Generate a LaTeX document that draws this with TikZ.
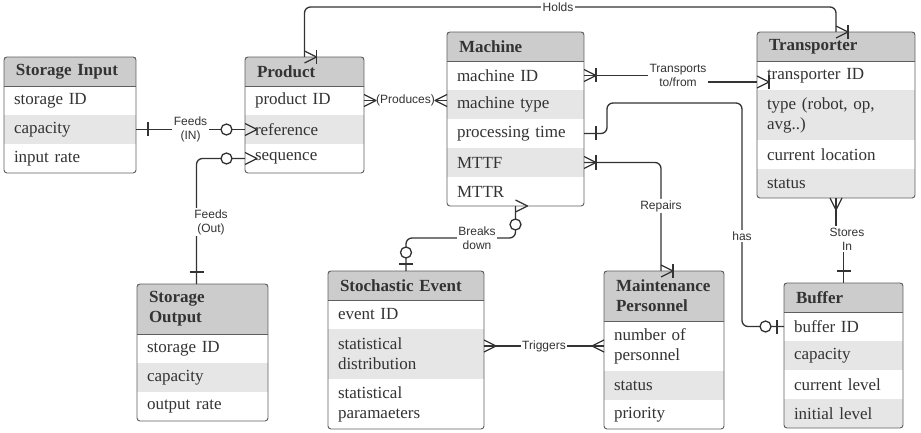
\documentclass[tikz,border=0pt]{standalone}
\usepackage{fontspec}
\setmainfont{Liberation Serif}
\newfontfamily\lblfont{Liberation Sans}
\usetikzlibrary{positioning}
\definecolor{hdrgray}{HTML}{CCCCCC}
\definecolor{rowgray}{HTML}{E6E6E6}
\definecolor{edgegray}{HTML}{5E5E5E}
\definecolor{inkgray}{HTML}{333333}
\definecolor{linegray}{HTML}{333333}

\begin{document}
\begin{tikzpicture}[x=1pt,y=-1pt,
    cell/.style={inner xsep=10pt, inner ysep=0pt, outer sep=0pt, align=left, text=inkgray,
        font=\fontsize{17}{20}\selectfont, minimum height=29pt},
    hdr/.style={cell, fill=hdrgray, inner xsep=12pt, font=\fontsize{17}{20}\selectfont\bfseries, text width=#1},
    rowa/.style={cell, fill=white, text width=#1},
    rowb/.style={cell, fill=rowgray, text width=#1},
    tall/.style={minimum height=50pt},
    tblline/.style={draw=edgegray, line width=0.9pt},
    conn/.style={draw=linegray, line width=1.3pt, line join=round},
    lbl/.style={font=\lblfont\fontsize{12}{14}\selectfont, text=inkgray, fill=white, inner sep=1.5pt, align=center},
    one/.pic={\draw[conn] (12,-7) -- (12,7);},
    many/.pic={\draw[conn] (0,6) -- (12,0) -- (0,-6);},
    onemany/.pic={\pic {many}; \pic {one};},
    zeromany/.pic={\pic {many}; \draw[conn, fill=white] (18.5,0) circle[radius=5.5pt];},
    zeroone/.pic={\draw[conn] (7,-7) -- (7,7); \draw[conn, fill=white] (18.5,0) circle[radius=5.5pt];}]
    \useasboundingbox[fill=white] (0,0) rectangle (921,433);

    % Storage Input
    \node[hdr=108pt, anchor=north west] (si) at (4,57) {Storage Input};
    \node[rowa=112pt, below=0pt of si] (si1) {storage ID};
    \node[rowb=112pt, below=0pt of si1] (si2) {capacity};
    \node[rowa=112pt, below=0pt of si2] (si3) {input rate};

    % Product
    \node[hdr=95pt, anchor=north west] (prod) at (245,57) {Product};
    \node[rowa=99pt, below=0pt of prod] (prod1) {product ID};
    \node[rowb=99pt, below=0pt of prod1] (prod2) {reference};
    \node[rowa=99pt, below=0pt of prod2] (prod3) {sequence};

    % Machine
    \node[hdr=113pt, anchor=north west] (mach) at (447,32) {Machine};
    \node[rowa=117pt, below=0pt of mach] (mach1) {machine ID};
    \node[rowb=117pt, below=0pt of mach1] (mach2) {machine type};
    \node[rowa=117pt, below=0pt of mach2] (mach3) {processing time};
    \node[rowb=117pt, below=0pt of mach3] (mach4) {MTTF};
    \node[rowa=117pt, below=0pt of mach4] (mach5) {MTTR};

    % Transporter
    \node[hdr=134pt, anchor=north west] (trans) at (757,32) {Transporter};
    \node[rowa=138pt, below=0pt of trans] (trans1) {transporter ID};
    \node[rowb=138pt, tall, below=0pt of trans1] (trans2) {type (robot, op,\\avg..)};
    \node[rowa=138pt, below=0pt of trans2] (trans3) {current location};
    \node[rowb=138pt, below=0pt of trans3] (trans4) {status};

    % Storage Output
    \node[hdr=107pt, tall, anchor=north west] (sout) at (137,284) {Storage\\Output};
    \node[rowa=111pt, below=0pt of sout] (sout1) {storage ID};
    \node[rowb=111pt, below=0pt of sout1] (sout2) {capacity};
    \node[rowa=111pt, below=0pt of sout2] (sout3) {output rate};

    % Stochastic Event
    \node[hdr=132pt, anchor=north west] (stoch) at (328,271) {Stochastic Event};
    \node[rowa=136pt, below=0pt of stoch] (stoch1) {event ID};
    \node[rowb=136pt, tall, below=0pt of stoch1] (stoch2) {statistical\\distribution};
    \node[rowa=136pt, tall, below=0pt of stoch2] (stoch3) {statistical\\paramaeters};

    % Maintenance Personnel
    \node[hdr=96pt, tall, anchor=north west] (maint) at (604,271) {Maintenance\\Personnel};
    \node[rowa=100pt, tall, below=0pt of maint] (maint1) {number of\\personnel};
    \node[rowb=100pt, below=0pt of maint1] (maint2) {status};
    \node[rowa=100pt, below=0pt of maint2] (maint3) {priority};

    % Buffer
    \node[hdr=95pt, anchor=north west] (buf) at (784,283) {Buffer};
    \node[rowa=99pt, below=0pt of buf] (buf1) {buffer ID};
    \node[rowb=99pt, below=0pt of buf1] (buf2) {capacity};
    \node[rowa=99pt, below=0pt of buf2] (buf3) {current level};
    \node[rowb=99pt, below=0pt of buf3] (buf4) {initial level};

    \foreach \t/\l in {si/si3, prod/prod3, mach/mach5, trans/trans4, sout/sout3, stoch/stoch3, maint/maint3, buf/buf4} {
        \draw[tblline, rounded corners=3pt] (\t.north west) rectangle (\l.south east);
        \draw[tblline] (\t.south west) -- (\t.south east);
    }

    % relations
    \coordinate (holds) at (558,7);
    \coordinate (brk) at (477,238);
    \coordinate (storesin) at (847,239);
    \draw[conn, rounded corners=6pt] (prod.north) |- (holds) -| (trans.north);
    \draw[conn] (si2.east) -- (prod2.west) node[lbl, midway] {Feeds\\(IN)};
    \draw[conn, rounded corners=6pt] (prod3.west) -| ([xshift=-6pt]sout.north);
    \draw[conn] (prod1.east) -- (prod1.east -| mach.west) node[lbl, midway] {(Produces)};
    \draw[conn] (mach1.east) -- ++(99,0) |- ([yshift=-6.5pt]trans1.west);
    \draw[conn, rounded corners=6pt] (mach3.east) -- ++(23,0) |- (742,103) |- (buf1.west);
    \draw[conn, rounded corners=6pt] (mach4.east) -| ([xshift=-3pt]maint.north) node[lbl, pos=0.7] {Repairs};
    \draw[conn, rounded corners=6pt] (mach5.south) |- (brk) -| (stoch.north);
    \draw[conn] (trans4.south) |- (storesin) -| (buf.north);
    \draw[conn] (stoch.east |- maint1.west) -- (maint1.west) node[lbl, midway] {Triggers};

    % cardinalities
    \pic[rotate=90] at (prod.north) {onemany};
    \pic[rotate=90] at (trans.north) {onemany};
    \pic at (si2.east) {one};
    \pic[rotate=180] at (prod2.west) {zeromany};
    \pic[rotate=180] at (prod3.west) {zeromany};
    \pic[rotate=90] at ([xshift=-6pt]sout.north) {one};
    \pic at (prod1.east) {many};
    \pic[rotate=180] at (prod1.east -| mach.west) {many};
    \pic at (mach1.east) {onemany};
    \pic[rotate=180] at ([yshift=-6.5pt]trans1.west) {onemany};
    \pic at (mach3.east) {one};
    \pic[rotate=180] at (buf1.west) {zeroone};
    \pic at (mach4.east) {onemany};
    \pic[rotate=90] at ([xshift=-3pt]maint.north) {onemany};
    \pic[rotate=-90] at (mach5.south) {zeromany};
    \pic[rotate=90] at (stoch.north) {zeroone};
    \pic[rotate=-90] at (trans4.south) {many};
    \pic[rotate=90] at (buf.north) {one};
    \pic at (stoch.east |- maint1.west) {many};
    \pic[rotate=180] at (maint1.west) {many};

    % labels
    \node[lbl] at (holds) {Holds};
    \node[lbl] at (211,222) {Feeds\\(Out)};
    \node[lbl] at (678,75) {Transports\\to/from};
    \node[lbl] at (742,236) {has};
    \node[lbl] at (brk) {Breaks\\down};
    \node[lbl] at (storesin) {Stores\\In};
\end{tikzpicture}
\end{document}
